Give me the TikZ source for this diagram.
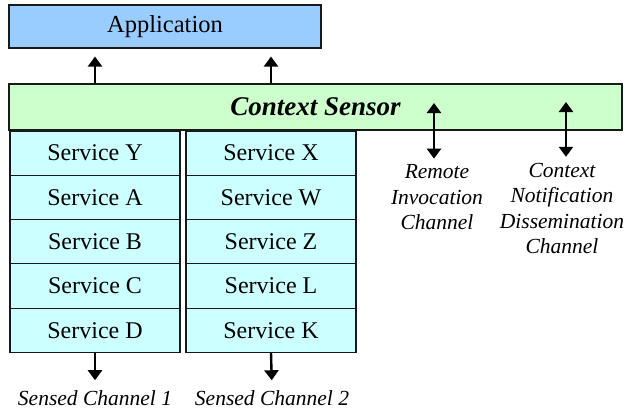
\documentclass[tikz,border=0pt]{standalone}
\usepackage{fontspec}
\setmainfont{Liberation Serif}
\usepackage{tikz}
\usetikzlibrary{positioning, arrows.meta, calc}
\definecolor{appblue}{HTML}{99CCFF}
\definecolor{ctxgreen}{HTML}{CCFFCC}
\definecolor{svccyan}{HTML}{CCFFFF}

\begin{document}
\begin{tikzpicture}[x=1pt, y=-1pt, every node/.style={inner sep=0pt},
  layer/.style={draw=black!90, line width=1.1pt},
  svc/.style={layer, fill=svccyan, minimum width=170pt, minimum height=44.3pt, font=\fontsize{24}{26}\selectfont},
  chan/.style={align=center, font=\fontsize{21.5}{25.5}\selectfont\itshape},
  arr/.style={line width=2.4pt, -{Triangle[width=14pt,length=10pt]}},
  dblarr/.style={line width=2.4pt, {Triangle[width=14pt,length=10pt]}-{Triangle[width=14pt,length=10pt]}}]
  \useasboundingbox (0,0) rectangle (626,412);
  \node[layer, fill=appblue, minimum width=312pt, minimum height=43pt, font=\fontsize{24.5}{26}\selectfont] (app) at (165,26.5) {Application};
  \node[layer, fill=ctxgreen, minimum width=613pt, minimum height=46pt, font=\fontsize{27}{28}\selectfont\bfseries\itshape] (ctx) at (315.5,107) {Context Sensor};
  % service stacks
  \foreach \s [count=\i] in {Y,A,B,C,D}{
    \node[svc] (a\i) at (95, 108.8+44.3*\i) {Service \s};
  }
  \foreach \s [count=\i] in {X,W,Z,L,K}{
    \node[svc] (b\i) at (271, 108.8+44.3*\i) {Service \s};
  }
  \draw[arr, shorten >=8pt] (ctx.north -| a1) -- (app.south -| a1);
  \draw[arr, shorten >=8pt] (ctx.north -| b1) -- (app.south -| b1);
  % channels
  \node[chan] (sc1) at (95,398) {Sensed Channel 1};
  \node[chan] (sc2) at (272,398) {Sensed Channel 2};
  \draw[arr, shorten >=10pt] (a5.south) -- (sc1.north);
  \draw[arr, shorten >=10pt] (b5.south) -- (sc2.north);
  \node[chan] (rem) at (437,197.5) {Remote\\Invocation\\Channel};
  \node[chan] (notif) at (562,208.5) {Context\\Notification\\Dissemination\\Channel};
  \coordinate (remtop) at (434,103);
  \coordinate (notiftop) at (566,102);
  \draw[dblarr, shorten >=6pt] (remtop) -- (remtop |- rem.north);
  \draw[dblarr, shorten >=6pt] (notiftop) -- (notiftop |- notif.north);
\end{tikzpicture}
\end{document}
